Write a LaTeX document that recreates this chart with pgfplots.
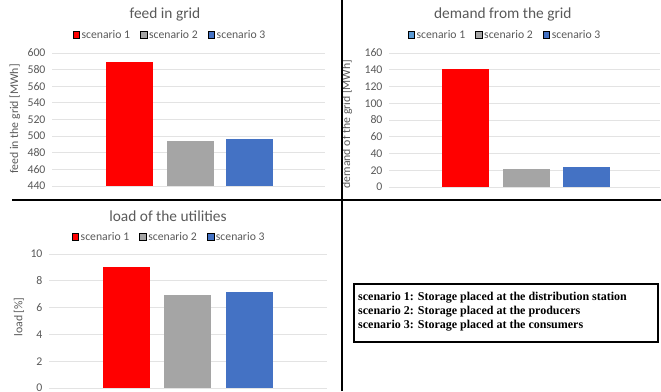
\documentclass[border=0pt]{standalone}
\usepackage{pgfplots}
\pgfplotsset{compat=1.18}
\usepackage{fontspec}
\setmainfont{Carlito}
\newfontfamily\timesfont{Liberation Serif}
\definecolor{cRed}{HTML}{FF0000}
\definecolor{cGray}{HTML}{A5A5A5}
\definecolor{cBlue}{HTML}{4472C4}
\definecolor{cLBlue}{HTML}{5B9BD5}
\definecolor{txt}{HTML}{595959}
\definecolor{grd}{HTML}{E3E3E3}
\pgfplotsset{
  panel/.style={
    scale only axis, anchor=south west,
    ybar, bar width=47, bar shift=0pt,
    xtick=\empty,
    axis line style={draw=none},
    tick style={draw=none},
    ymajorgrids, grid style={grd, line width=0.8pt},
    tick label style={font=\fontsize{11.8}{12}\selectfont, color=txt},
    yticklabel style={xshift=-3pt},
    /pgf/number format/assume math mode=true,
    label style={font=\fontsize{11.8}{12}\selectfont, color=txt},
    every axis title shift=0pt,
    title style={font=\fontsize{15.4}{16}\selectfont, color=txt, anchor=center},
    legend style={draw=none, fill=none, legend columns=-1, anchor=center,
      font=\fontsize{11.7}{12}\selectfont, text=txt,
      /tikz/every even column/.append style={column sep=8pt}},
    legend image code/.code={\fill[##1] (0pt,-3.2pt) rectangle (6.6pt,3.4pt);},
    clip=false,
  }
}
\begin{document}
\begin{tikzpicture}[x=1pt,y=1pt]
\clip (0,0) rectangle (661,391);
% panel 1
\begin{axis}[panel, at={(52pt,205pt)}, width=273pt, height=133pt,
  xmin=52, xmax=325, ymin=440, ymax=600, ytick={440,460,...,600},
  title={feed in grid}, title style={at={(axis description cs:0.414,1.286)}},
  ylabel={feed in the grid [MWh]}, ylabel style={at={(axis description cs:-0.136,0.504)}, anchor=center},
  legend style={at={(axis description cs:0.432,1.135)}}]
\addlegendimage{fill=cRed}\addlegendentry{scenario 1}
\addlegendimage{fill=cGray}\addlegendentry{scenario 2}
\addlegendimage{fill=cBlue}\addlegendentry{scenario 3}
\addplot[fill=cRed, draw=none, forget plot] coordinates {(129.5,589)};
\addplot[fill=cGray, draw=none, forget plot] coordinates {(190,494)};
\addplot[fill=cBlue, draw=none, forget plot] coordinates {(249.5,497)};
\end{axis}
% panel 2
\begin{axis}[panel, at={(389pt,204pt)}, width=271pt, height=134pt,
  xmin=389, xmax=660, ymin=0, ymax=160, ytick={0,20,...,160},
  title={demand from the grid}, title style={at={(axis description cs:0.42,1.284)}},
  ylabel={demand of the grid [MWh]}, ylabel style={at={(axis description cs:-0.155,0.47)}, anchor=center},
  legend style={at={(axis description cs:0.428,1.134)}}]
\addlegendimage{fill=cLBlue}\addlegendentry{scenario 1}
\addlegendimage{fill=cGray}\addlegendentry{scenario 2}
\addlegendimage{fill=cBlue}\addlegendentry{scenario 3}
\addplot[fill=cRed, draw=none, forget plot] coordinates {(465.5,141)};
\addplot[fill=cGray, draw=none, forget plot] coordinates {(526,22)};
\addplot[fill=cBlue, draw=none, forget plot] coordinates {(586.5,23.5)};
\end{axis}
% panel 3
\begin{axis}[panel, at={(49pt,3pt)}, width=278pt, height=134pt,
  xmin=49, xmax=327, ymin=0, ymax=10, ytick={0,2,...,10},
  title={load of the utilities}, title style={at={(axis description cs:0.428,1.284)}},
  ylabel={load [\%]}, ylabel style={at={(axis description cs:-0.108,0.53)}, anchor=center},
  legend style={at={(axis description cs:0.432,1.127)}}]
\addlegendimage{fill=cRed}\addlegendentry{scenario 1}
\addlegendimage{fill=cGray}\addlegendentry{scenario 2}
\addlegendimage{fill=cBlue}\addlegendentry{scenario 3}
\addplot[fill=cRed, draw=none, forget plot] coordinates {(126,9.05)};
\addplot[fill=cGray, draw=none, forget plot] coordinates {(187.5,6.95)};
\addplot[fill=cBlue, draw=none, forget plot] coordinates {(249,7.2)};
\end{axis}
% separators
\draw[line width=2pt] (12,191) -- (661,191);
\draw[line width=2pt] (341.5,0) -- (341.5,391);
% text box
\draw[line width=2pt] (354,49) rectangle (658,107);
\begin{scope}[every node/.style={anchor=base west, inner sep=0pt,
  font=\timesfont\bfseries\fontsize{12}{14}\selectfont}]
\node at (358,91) {scenario 1: Storage placed at the distribution station};
\node at (358,77) {scenario 2: Storage placed at the producers};
\node at (358,63) {scenario 3: Storage placed at the consumers};
\end{scope}
\end{tikzpicture}
\end{document}
